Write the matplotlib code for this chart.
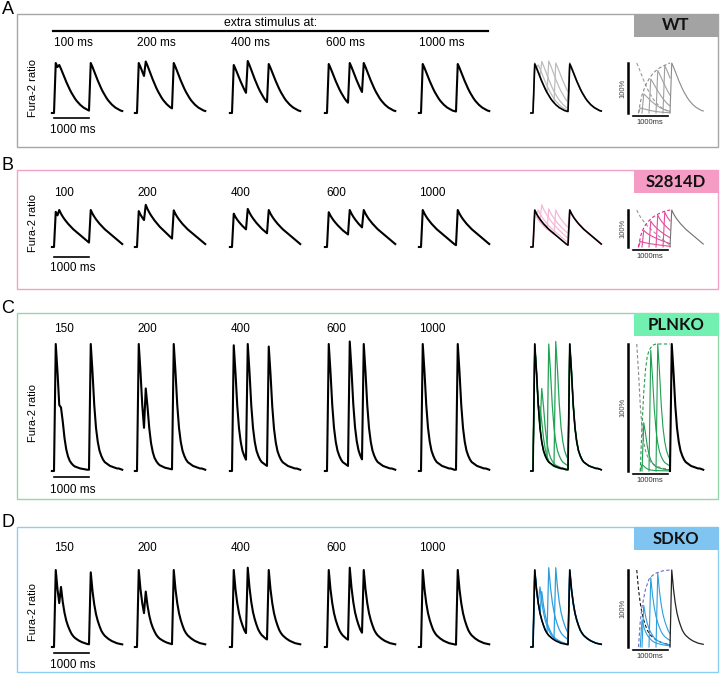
import numpy as np
import matplotlib
matplotlib.use("Agg")
import matplotlib.pyplot as plt
from matplotlib.patches import Rectangle
import matplotlib.transforms as mtransforms

plt.rcParams['font.family'] = ['Liberation Sans', 'DejaVu Sans']

# ------------------------------------------------------------------ data
genotypes = ["WT", "S2814D", "PLNKO", "SDKO"]
panel_letters = ["A", "B", "C", "D"]

group_labels = {
    "WT": ["100 ms", "200 ms", "400 ms", "600 ms", "1000 ms"],
    "S2814D": ["100", "200", "400", "600", "1000"],
    "PLNKO": ["150", "200", "400", "600", "1000"],
    "SDKO": ["150", "200", "400", "600", "1000"],
}
extra_ms = {
    "WT": [100, 200, 400, 600, 1000],
    "S2814D": [100, 200, 400, 600, 1000],
    "PLNKO": [150, 200, 400, 600, 1000],
    "SDKO": [150, 200, 400, 600, 1000],
}
paced_ms = 1000

# peak levels (fraction of steady-state amplitude)
first_peak = {
    "WT": [1.00, 1.00, 0.96, 0.98, 0.98],
    "S2814D": [0.95, 0.97, 0.90, 0.94, 1.00],
    "PLNKO": [1.00, 1.00, 0.99, 1.00, 1.00],
    "SDKO": [1.00, 1.00, 1.00, 1.00, 1.00],
}
extra_peak = {
    "WT": [0.96, 1.03, 1.04, 1.00, 0.98],
    "S2814D": [1.00, 1.14, 1.03, 1.00, 1.00],
    "PLNKO": [0.50, 0.65, 1.00, 1.02, 1.00],
    "SDKO": [0.78, 0.72, 1.03, 1.03, 1.00],
}
final_peak = {
    "WT": [1.00, 1.00, 0.98, 1.00, 0.98],
    "S2814D": [1.00, 0.99, 1.00, 1.00, 1.00],
    "PLNKO": [1.00, 1.00, 0.98, 1.00, 1.00],
    "SDKO": [0.97, 1.00, 1.00, 1.00, 1.00],
}

# decay of a single transient, read every 50 ms after its peak (0..1000 ms)
decay = {
    "WT": [1.00, 0.92, 0.83, 0.74, 0.65, 0.57, 0.49, 0.42, 0.36, 0.30, 0.25,
           0.21, 0.17, 0.14, 0.11, 0.09, 0.07, 0.05, 0.04, 0.03, 0.02],
    "S2814D": [1.00, 0.90, 0.82, 0.75, 0.69, 0.63, 0.58, 0.53, 0.48, 0.44, 0.40,
               0.36, 0.32, 0.28, 0.24, 0.20, 0.16, 0.12, 0.08, 0.05, 0.02],
    "PLNKO": [1.00, 0.78, 0.52, 0.34, 0.23, 0.16, 0.12, 0.09, 0.07, 0.06, 0.05,
              0.04, 0.035, 0.03, 0.025, 0.02, 0.02, 0.015, 0.01, 0.01, 0.01],
    "SDKO": [1.00, 0.75, 0.57, 0.44, 0.35, 0.28, 0.22, 0.18, 0.15, 0.13, 0.11,
             0.095, 0.08, 0.07, 0.06, 0.05, 0.045, 0.04, 0.035, 0.03, 0.025],
}

# restitution: isolated extra-beat amplitudes (fraction of steady state)
restit_ms = {
    "WT": [100, 200, 400, 600, 800],
    "S2814D": [100, 200, 400, 600, 800],
    "PLNKO": [150, 200, 400, 600],
    "SDKO": [150, 200, 400, 600],
}
restit_amp = {
    "WT": [0.10, 0.38, 0.68, 0.85, 0.95],
    "S2814D": [0.15, 0.45, 0.70, 0.86, 0.94],
    "PLNKO": [0.05, 0.38, 0.95, 1.00],
    "SDKO": [0.35, 0.54, 0.90, 0.96],
}
curve_ms = {
    "WT": [100, 150, 200, 300, 400, 500, 600, 700, 800, 900, 1000],
    "S2814D": [100, 150, 200, 300, 400, 500, 600, 700, 800, 900, 1000],
    "PLNKO": [150, 200, 250, 300, 350, 400, 500, 600, 800, 1000],
    "SDKO": [100, 150, 200, 300, 400, 500, 600, 800, 1000],
}
curve_amp = {
    "WT": [0.0, 0.20, 0.36, 0.55, 0.68, 0.78, 0.85, 0.90, 0.94, 0.97, 1.0],
    "S2814D": [0.0, 0.25, 0.42, 0.60, 0.71, 0.80, 0.86, 0.91, 0.95, 0.98, 1.0],
    "PLNKO": [0.0, 0.35, 0.62, 0.80, 0.90, 0.95, 0.99, 1.0, 1.0, 1.0],
    "SDKO": [0.0, 0.33, 0.52, 0.75, 0.88, 0.93, 0.96, 0.99, 1.0],
}

# ------------------------------------------------------------------ style / layout
frame_color = {"WT": "#a6a6a6", "S2814D": "#f2a2c8", "PLNKO": "#94d6ac", "SDKO": "#8ccdf0"}
tag_color = {"WT": "#a3a3a3", "S2814D": "#f59cc4", "PLNKO": "#72f0b2", "SDKO": "#80c5f2"}
overlay_color = {"WT": "#bcbcbc", "S2814D": "#f6b8d6", "PLNKO": "#22a455", "SDKO": "#2c9ee0"}
restit_color = {"WT": "#a0a0a0", "S2814D": "#e54c9e", "PLNKO": "#1f9e50", "SDKO": "#2c9ee0"}
curve_color = {"WT": "#8c8c8c", "S2814D": "#e0288e", "PLNKO": "#1f9e50", "SDKO": "#6c6cc4"}
ref_dash_color = {"WT": "#9a9a9a", "S2814D": "#9a9a9a", "PLNKO": "#8a8a8a", "SDKO": "#111111"}
final_style = {"WT": ("#8a8a8a", 0.8), "S2814D": ("#707070", 0.8),
               "PLNKO": ("#000000", 1.5), "SDKO": ("#222222", 0.9)}

# pixel layout: box top, box bottom, baseline, peak, group label y, bar y, bar text y, ylabel y
layout = {
    "WT": dict(top=14, bot=147, base=113, peak=63, lab=43, bar=118, bartxt=130, ylab=88),
    "S2814D": dict(top=170, bot=289, base=247, peak=210, lab=193, bar=257, bartxt=268, ylab=223),
    "PLNKO": dict(top=313, bot=499, base=471, peak=344, lab=329, bar=477, bartxt=490, ylab=413),
    "SDKO": dict(top=527, bot=672, base=647, peak=570, lab=548, bar=653, bartxt=665, ylab=612),
}
group_onset_px = [54, 137, 232, 327, 421]
group_label_px = [54, 137, 231, 326, 419]
overlay_onset_px = 533
restit_onset_px = 635
PX_PER_MS = 0.035
STEP = 50
RISE = 50

W, H = 720, 674
fig = plt.figure(figsize=(W / 100, H / 100), dpi=100)


def fx(x):
    return x / W


def fy(y):
    return 1 - y / H


def build_trace(beats, peaks, dec, t_end, t_start=-60):
    t = [t_start, beats[0]]
    y = [0.0, 0.0]
    for k, (tb, pk) in enumerate(zip(beats, peaks)):
        tp = tb + RISE
        t.append(tp)
        y.append(pk)
        nxt = beats[k + 1] if k + 1 < len(beats) else t_end
        j = 1
        while j < len(dec) and tp + j * STEP <= nxt:
            t.append(tp + j * STEP)
            y.append(pk * dec[j])
            j += 1
    return np.array(t, float), np.array(y, float)


def trace_axes(onset_px, base_px, peak_px, t0=-60, t1=1960):
    left = onset_px + t0 * PX_PER_MS
    width = (t1 - t0) * PX_PER_MS
    ax = fig.add_axes([fx(left), fy(base_px), width / W, (base_px - peak_px) / H])
    ax.set_xlim(t0, t1)
    ax.set_ylim(0, 1)
    ax.axis("off")
    return ax


def group_trace(g, i):
    ex = extra_ms[g][i]
    if ex < paced_ms:
        beats = [0, ex, paced_ms]
        peaks = [first_peak[g][i], extra_peak[g][i], final_peak[g][i]]
    else:
        beats = [0, paced_ms]
        peaks = [first_peak[g][i], final_peak[g][i]]
    return build_trace(beats, peaks, decay[g], 1950)


# ------------------------------------------------------------------ top header
fig.add_artist(plt.Line2D([fx(53), fx(488)], [fy(31), fy(31)], color="black", lw=1.6,
                          transform=fig.transFigure))
fig.text(fx(271), fy(23), "extra stimulus at:", ha="center", va="center", fontsize=8.8)

for p, g in enumerate(genotypes):
    L = layout[g]
    # frame
    fig.add_artist(Rectangle((fx(17), fy(L["bot"])), (718 - 17) / W, (L["bot"] - L["top"]) / H,
                             transform=fig.transFigure, fill=False, ec=frame_color[g], lw=1.0))
    # genotype tag
    fig.add_artist(Rectangle((fx(634), fy(L["top"] + 22.5)), (718.5 - 634) / W, 22.5 / H,
                             transform=fig.transFigure, fc=tag_color[g], ec="none"))
    fig.text(fx(676), fy(L["top"] + 11.5), g, ha="center", va="center", fontsize=12,
             fontweight="bold", family=["Lato", "DejaVu Sans"], color="#111111")
    # panel letter
    fig.text(fx(1.5), fy(L["top"]), panel_letters[p], ha="left", va="baseline", fontsize=13)
    # y label
    fig.text(fx(33), fy(L["ylab"]), "Fura-2 ratio", rotation=90, ha="center", va="center",
             fontsize=8)

    # groups of traces
    for i in range(5):
        ax = trace_axes(group_onset_px[i], L["base"], L["peak"])
        t, y = group_trace(g, i)
        ax.plot(t, y, color="black", lw=1.5, clip_on=False, solid_joinstyle="round")
        fig.text(fx(group_label_px[i]), fy(L["lab"]), group_labels[g][i], ha="left",
                 va="center", fontsize=8.5)
        if i == 0:
            trans = mtransforms.blended_transform_factory(ax.transData, fig.transFigure)
            ax.plot([0, paced_ms], [fy(L["bar"]), fy(L["bar"])], color="black", lw=1.2,
                    transform=trans, clip_on=False)
            fig.text(fx(group_onset_px[0] + 19), fy(L["bartxt"]), "1000 ms", ha="center",
                     va="center", fontsize=8.5)

    # overlay
    axo = trace_axes(overlay_onset_px, L["base"], L["peak"])
    for i in range(4):
        t, y = group_trace(g, i)
        axo.plot(t, y, color=overlay_color[g], lw=0.9, clip_on=False)
    t, y = group_trace(g, 4)
    axo.plot(t, y, color="black", lw=1.2, clip_on=False)

    # restitution plot
    axr = trace_axes(restit_onset_px, L["base"], L["peak"], t0=-200, t1=1960)
    dec = decay[g]
    tr, yr = build_trace([0], [1.0], dec, paced_ms, t_start=0)
    axr.plot(tr[2:], yr[2:], color=ref_dash_color[g], lw=0.8, ls=(0, (3, 2)), clip_on=False)
    for ms, amp in zip(restit_ms[g], restit_amp[g]):
        te, ye = build_trace([ms], [amp], dec, paced_ms, t_start=ms)
        axr.plot(te, ye, color=restit_color[g], lw=0.8, clip_on=False)
    axr.plot(curve_ms[g], curve_amp[g], color=curve_color[g], lw=0.8, ls=(0, (3, 2)),
             clip_on=False)
    tf, yf = build_trace([paced_ms], [1.0], dec, 1950, t_start=paced_ms)
    axr.plot(tf, yf, color=final_style[g][0], lw=final_style[g][1], clip_on=False)
    # scale bars
    axr.plot([0, 0], [0, 1], color="black", lw=1.8, clip_on=False,
             transform=axr.transAxes)
    trans = mtransforms.blended_transform_factory(axr.transData, fig.transFigure)
    axr.plot([-60, 940], [fy(L["base"] + 3), fy(L["base"] + 3)], color="black", lw=1.2,
             transform=trans, clip_on=False)
    fig.text(fx(650), fy(L["base"] + 10), "1000ms", ha="center", va="center", fontsize=5.5,
             color="#333333")
    fig.text(fx(622.5), fy((L["base"] + L["peak"]) / 2), "100%", rotation=90, ha="center",
             va="center", fontsize=5.5, color="#444444")

fig.savefig("out.png", dpi=100)
